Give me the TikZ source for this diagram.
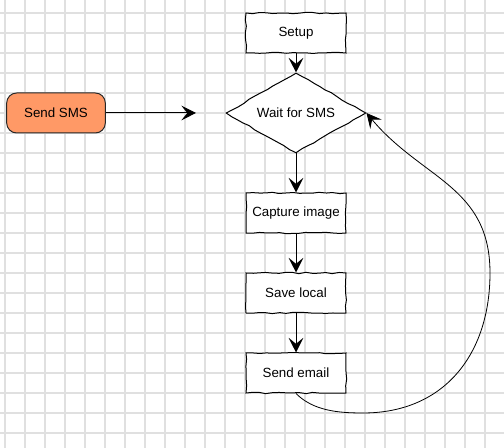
\documentclass[tikz,border=0pt]{standalone}
\usepackage{fontspec}
\setmainfont{Liberation Sans}
\usetikzlibrary{shapes.geometric,arrows.meta,decorations.pathmorphing}

\definecolor{gridgray}{HTML}{E0E0E0}
\definecolor{smsorange}{HTML}{FF9966}

\begin{document}
\begin{tikzpicture}[
    x=0.75pt, y=-0.75pt,
    font=\fontsize{10}{12}\selectfont,
    gridline/.style={draw=gridgray, line width=0.9pt},
    rough/.style={decorate, decoration={random steps, segment length=5pt, amplitude=0.5pt}},
    stepbox/.style={draw, fill=white, line width=0.75pt, rough, minimum width=75pt, minimum height=30pt, inner sep=0pt},
    decision/.style={diamond, draw, fill=white, line width=0.75pt, rough, minimum width=105pt, minimum height=60pt, inner sep=0pt, aspect=1.75},
    start/.style={draw=black!85, fill=smsorange, rounded corners=7.5pt, line width=0.75pt, minimum width=74pt, minimum height=30pt},
    flow/.style={-{Stealth[length=11pt,width=11pt,inset=4.5pt]}, line width=0.75pt}
]
\pgfmathsetseed{7}
\useasboundingbox (0,0) rectangle (504,448);

% Grid
\foreach \gx in {5,25,...,505}
{
    \draw[gridline] (\gx,0) -- (\gx,448);
}
\foreach \gy in {13,33,...,453}
{
    \draw[gridline] (0,\gy) -- (504,\gy);
}

% Main flow
\node[stepbox] (setup) at (296,33) {Setup};
\node[decision] (wait) at (296,113) {Wait for SMS};
\node[stepbox] (capture) at (296,213) {Capture image};
\node[stepbox] (save) at (296,293) {Save local};
\node[stepbox] (email) at (296,373) {Send email};

% Trigger
\node[start] (sms) at (56,113) {Send SMS};
\coordinate (smsend) at (196,113);

% Loop back
\coordinate (loopbottom) at (363,413);
\coordinate (loopright) at (490,273);

\draw[flow] (setup) -- (wait);
\draw[flow] (wait) -- (capture);
\draw[flow] (capture) -- (save);
\draw[flow] (save) -- (email);
\draw[flow] (sms) -- (smsend);
\draw[flow, line width=0.6pt] (email.south) to[out=-45,in=180,looseness=0.9] (loopbottom)
    to[out=0,in=-90,looseness=1.1] (loopright) to[out=90,in=-50,looseness=1.1] (wait.east);

\end{tikzpicture}
\end{document}
